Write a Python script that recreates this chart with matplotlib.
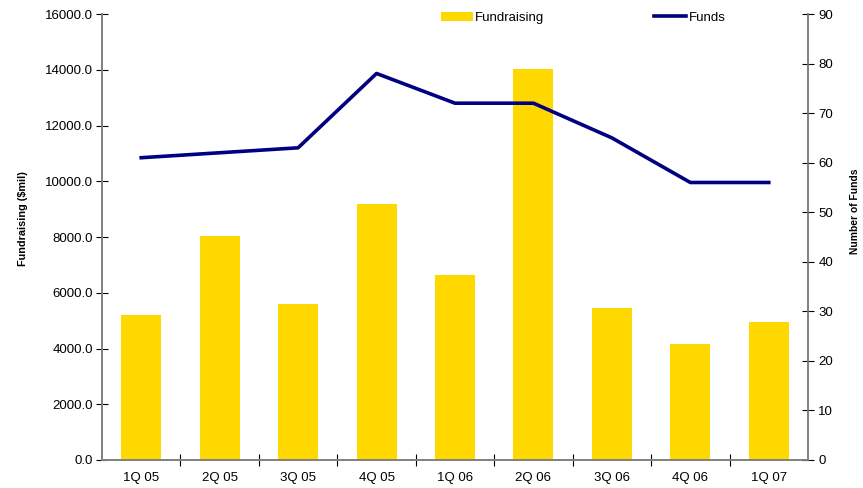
import matplotlib
matplotlib.use("Agg")
import matplotlib.pyplot as plt
import numpy as np

categories = ["1Q 05", "2Q 05", "3Q 05", "4Q 05", "1Q 06", "2Q 06", "3Q 06", "4Q 06", "1Q 07"]
fundraising = [5200, 8020, 5590, 9200, 6650, 14030, 5440, 4150, 4940]
funds = [61, 62, 63, 78, 72, 72, 65, 56, 56]

plt.rcParams['font.family'] = ['Liberation Sans', 'DejaVu Sans']
plt.rcParams['font.size'] = 9.5

fig = plt.figure(figsize=(8.63, 4.88), dpi=100)
ax = fig.add_axes([102/863, 1-460/488, (808-102)/863, (460-14)/488])
ax2 = ax.twinx()

x = np.arange(len(categories))
gray = '#808080'
bars = ax.bar(x, fundraising, width=0.51, color='#FFD800', label='Fundraising', zorder=2)
line, = ax2.plot(x, funds, color='#000080', lw=2.6, label='Funds', zorder=3)

ax.set_xlim(-0.5, len(categories) - 0.5)
ax.set_ylim(0, 16000)
ax2.set_ylim(0, 90)
ax.set_yticks(np.arange(0, 16001, 2000))
ax.set_yticklabels([f"{v:.1f}" for v in np.arange(0, 16001, 2000)])
ax2.set_yticks(np.arange(0, 91, 10))

ax.set_xticks(np.arange(0.5, len(categories) - 0.5, 1))
ax.set_xticklabels([])
ax.set_xticks(x, minor=True)
ax.set_xticklabels(categories, minor=True)
ax.tick_params(axis='x', which='minor', length=0, pad=9)
ax.tick_params(axis='x', which='major', direction='inout', length=8, color='black', width=0.8)
ax.tick_params(axis='y', direction='inout', length=8, color='black', width=0.8, pad=2.5)
ax2.tick_params(axis='y', direction='inout', length=8, color='black', width=0.8, pad=3.5)

for a in (ax, ax2):
    a.spines['top'].set_visible(False)
    for s in ('left', 'right', 'bottom'):
        a.spines[s].set_color(gray)
        a.spines[s].set_linewidth(1.2)

fig.text(23/863, 1 - 219/488, "Fundraising ($mil)", rotation=90, ha='center', va='center',
         fontweight='bold', fontsize=7.8)
fig.text(855/863, 1 - 211/488, "Number of Funds", rotation=90, ha='center', va='center',
         fontweight='bold', fontsize=7.4)

leg = ax.legend([bars, line], ['Fundraising', 'Funds'], ncol=2, frameon=False,
                loc='center left', bbox_to_anchor=(441/863, 1 - 18/488), bbox_transform=fig.transFigure,
                handlelength=2.4, handletextpad=0.2, columnspacing=8.3, borderaxespad=0.0,
                borderpad=0.0)

fig.savefig("out.png", dpi=100)
